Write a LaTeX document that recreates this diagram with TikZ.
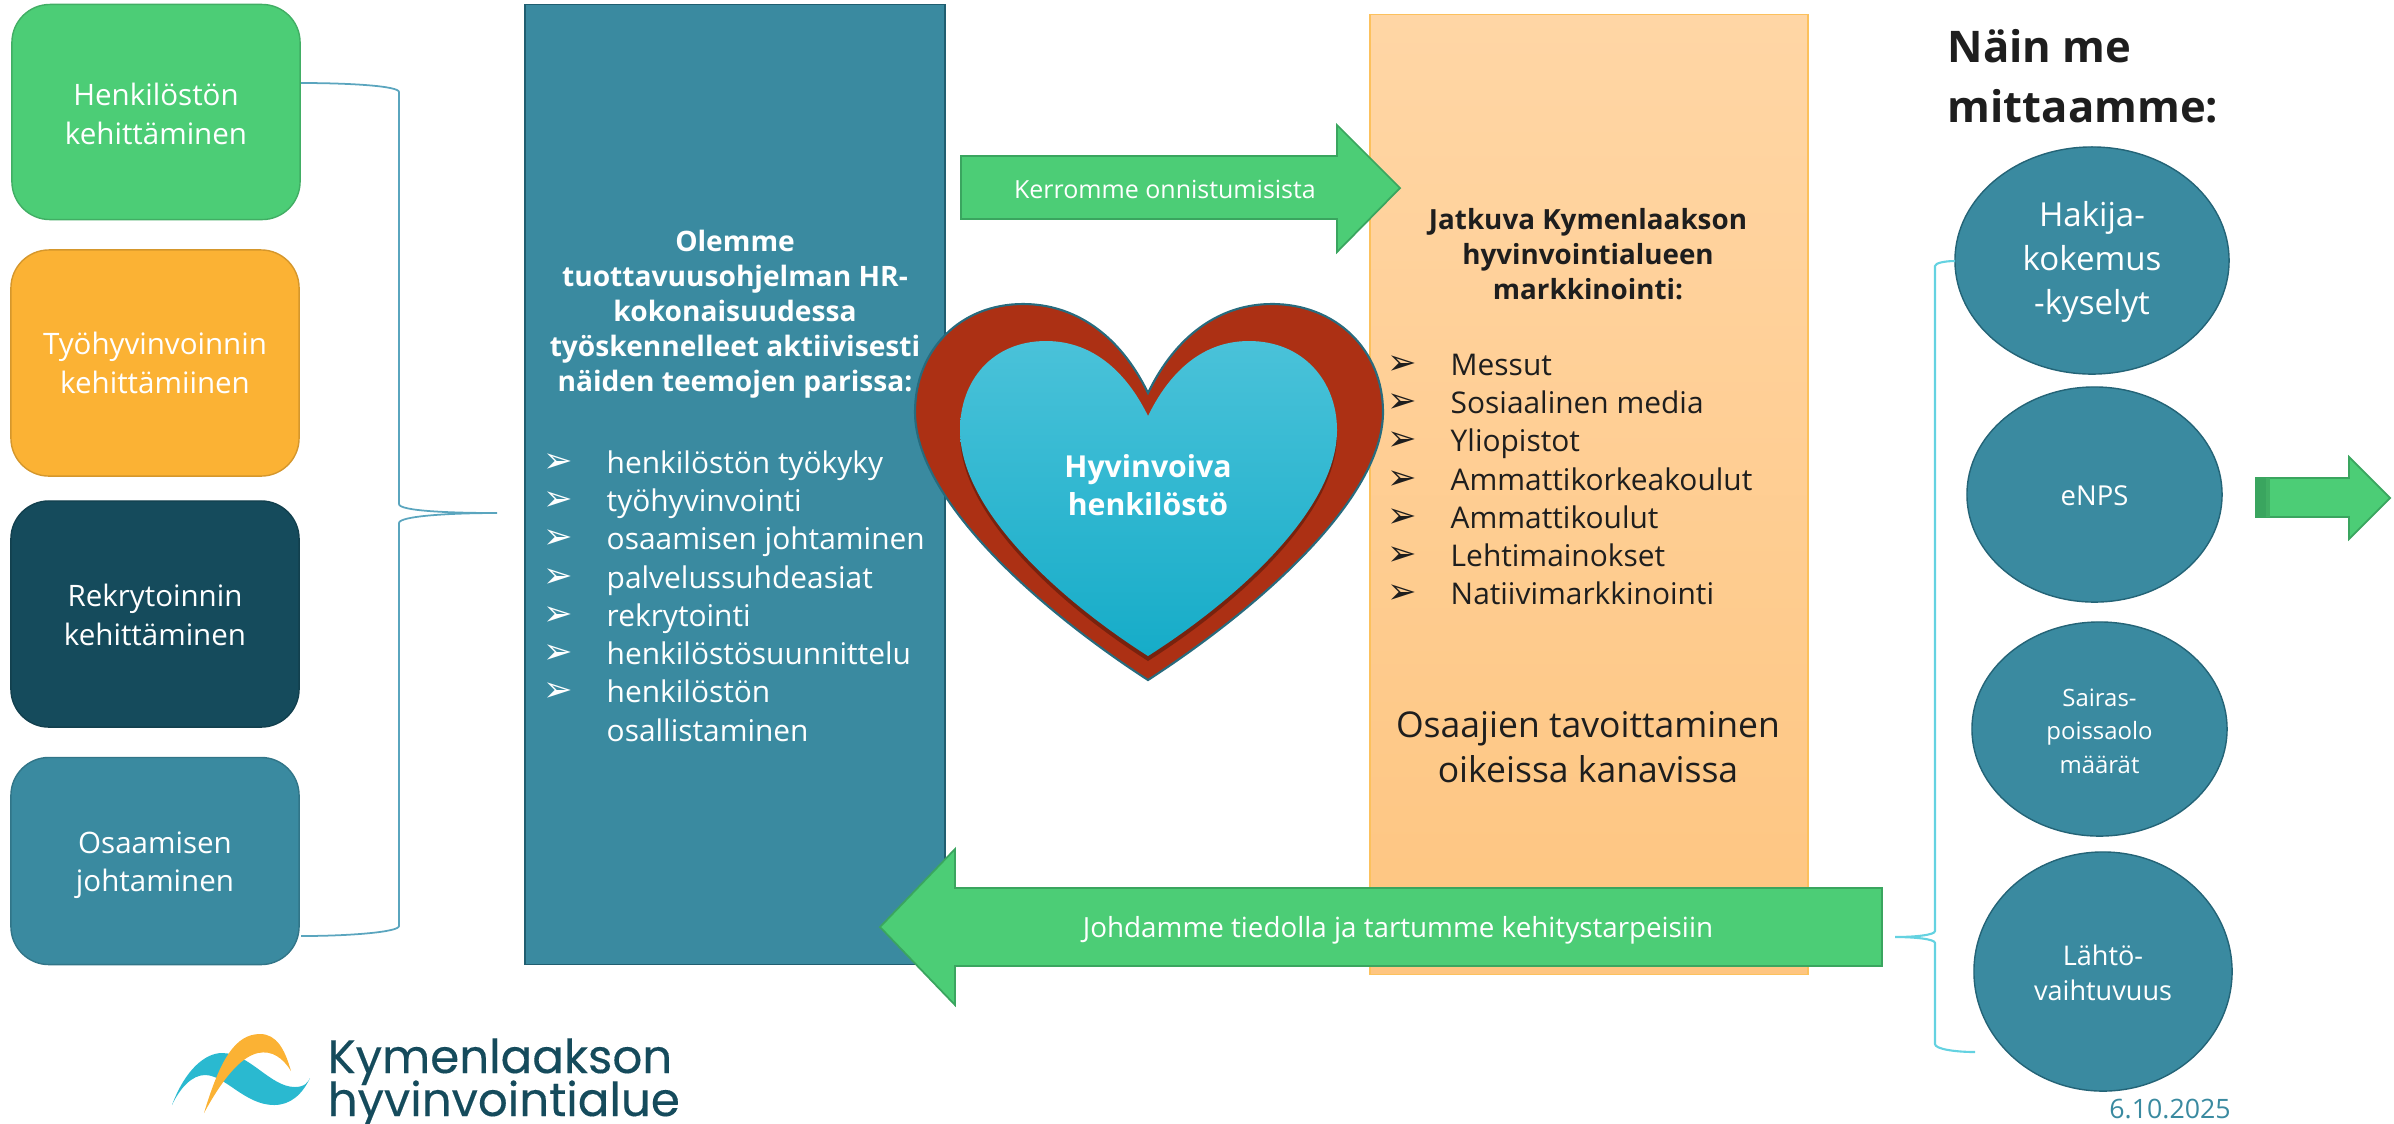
\documentclass[tikz,border=0pt]{standalone}
\usepackage{fontspec}
\setmainfont{Open Sans}
\newfontfamily\markfont{DejaVu Sans}
\newfontfamily\logofont[FakeBold=0.3]{Poppins}
\usetikzlibrary{shapes.geometric}
\definecolor{hrgreen}{RGB}{76,205,118}
\definecolor{hrgreenline}{RGB}{58,165,95}
\definecolor{hrorange}{RGB}{251,178,52}
\definecolor{hrpeachtop}{RGB}{255,214,165}
\definecolor{hrpeachlow}{RGB}{254,197,128}
\definecolor{hrdark}{RGB}{21,75,92}
\definecolor{hrblue}{RGB}{58,138,160}
\definecolor{hrbrace}{RGB}{90,165,190}
\definecolor{hrcyan}{RGB}{100,210,225}
\definecolor{hrred}{RGB}{172,48,20}
\definecolor{hearttop}{RGB}{74,194,217}
\definecolor{heartmid}{RGB}{34,190,217}
\definecolor{heartlow}{RGB}{22,172,200}
\definecolor{hrlogo}{RGB}{42,185,208}
\definecolor{hrtext}{RGB}{30,30,30}
\tikzset{
    themebox/.style={draw=#1!85!black,fill=#1,rounded corners=0.38cm,inner sep=0pt,minimum width=2.88cm},
    themetext/.style={text=white,align=center,inner sep=0pt,font=\fontsize{8.4}{10.9}\selectfont},
    meterball/.style={ellipse,draw=hrdark!60!hrblue,fill=hrblue,inner sep=0pt},
    metertext/.style={text=white,align=center,inner sep=0pt},
    flowarrow/.style={draw=hrgreenline,fill=hrgreen,line width=0.5pt},
    flowtext/.style={text=white},
    listrow/.style={anchor=base west,inner sep=0pt,font=\fontsize{8.5}{10}\selectfont},
    listmark/.style={inner sep=0pt,font=\markfont\fontsize{10}{11}\selectfont},
}
\begin{document}
\begin{tikzpicture}[x=0.01cm,y=-0.01cm]
    \useasboundingbox (0,0) rectangle (2394,1123);
    % left column
    \node[themebox=hrgreen,minimum height=2.15cm] (kehitys) at (156,112) {};
    \node[themebox=hrorange,minimum height=2.26cm] (tyohyv) at (155,363) {};
    \node[themebox=hrdark,minimum height=2.26cm] (rekry) at (155,614) {};
    \node[themebox=hrblue,minimum height=2.07cm] (osaaminen) at (155,861) {};
    \node[themetext] (kehitysText) at (156,114) {Henkilöstön\\kehittäminen};
    \node[themetext] (tyohyvText) at (155,363) {Työhyvinvoinnin\\kehittämiinen};
    \node[themetext] (rekryText) at (155,615) {Rekrytoinnin\\kehittäminen};
    \node[themetext] (osaaminenText) at (155,865) {Osaamisen\\johtaminen};
    \coordinate (braceTop) at (301,83);
    \coordinate (braceTip) at (497,513);
    \coordinate (braceEnd) at (301,936);
    \draw[hrbrace,line width=0.5pt] (braceTop) .. controls (350,83) and (399,86) .. (399,92) -- (399,504)
        .. controls (399,511) and (450,513) .. (braceTip) .. controls (450,513) and (399,516) .. (399,523)
        -- (399,926) .. controls (399,932) and (350,936) .. (braceEnd);
    % blue panel
    \node[draw=hrdark!70!hrblue,fill=hrblue,inner sep=0pt,minimum width=4.2cm,minimum height=9.59cm] (panel) at (735,484.5) {};
    \node[text=white,align=center,inner sep=0pt,font=\fontsize{8}{9.95}\selectfont\bfseries] (panelhead) at (735,314)
        {Olemme\\tuottavuusohjelman HR-\\kokonaisuudessa\\työskennelleet aktiivisesti\\näiden teemojen parissa:};
    \foreach \y/\txt in {462/henkilöstön työkyky,500/työhyvinvointi,538/osaamisen johtaminen,
        577/palvelussuhdeasiat,615/rekrytointi,653/henkilöstösuunnittelu,691/henkilöstön}
    {
        \node[listmark,text=white] (panelmark\y) at (558,\y+1) {➢};
        \node[listrow,text=white] (panelrow\y) at (606,\y+11) {\txt};
    }
    \node[listrow,text=white] (panelrow730) at (606,741) {osallistaminen};
    % orange panel
    \node[draw=hrorange!80!white,top color=hrpeachtop,bottom color=hrpeachlow,inner sep=0pt,
        minimum width=4.38cm,minimum height=9.59cm] (market) at (1589,494.5) {};
    \node[text=hrtext,align=center,inner sep=0pt,font=\fontsize{7.9}{9.95}\selectfont\bfseries] (markethead) at (1588,254)
        {Jatkuva Kymenlaakson\\hyvinvointialueen\\markkinointi:};
    \foreach \y/\txt in {364/Messut,402/Sosiaalinen media,440/Yliopistot,479/Ammattikorkeakoulut,
        517/Ammattikoulut,555/Lehtimainokset,593/Natiivimarkkinointi}
    {
        \node[listmark,text=hrtext] (marketmark\y) at (1402,\y+1) {➢};
        \node[listrow,text=hrtext] (marketrow\y) at (1450,\y+11) {\txt};
    }
    \node[text=hrtext,align=center,inner sep=0pt,font=\fontsize{10.1}{12.9}\selectfont] (reach) at (1588,747)
        {Osaajien tavoittaminen\\oikeissa kanavissa};
    % arrows
    \draw[flowarrow] (961,156) -- (1337,156) -- (1337,125) -- (1400,188) -- (1337,252) -- (1337,219) -- (961,219) -- cycle;
    \node[flowtext,font=\fontsize{7.1}{9}\selectfont] (kerromme) at (1165,189) {Kerromme onnistumisista};
    \draw[flowarrow] (1882,888) -- (955,888) -- (955,849) -- (880,927) -- (955,1005) -- (955,966) -- (1882,966) -- cycle;
    \node[flowtext,font=\fontsize{7.9}{9}\selectfont] (johdamme) at (1398,930) {Johdamme tiedolla ja tartumme kehitystarpeisiin};
    % heart
    \draw[draw=hrdark!50!hrblue,fill=hrred,line width=0.6pt] (1148,393) .. controls (1120,335) and (1075,304) .. (1023,304)
        .. controls (960,304) and (915,350) .. (915,412) .. controls (915,500) and (1040,610) .. (1148,680)
        .. controls (1256,610) and (1383,500) .. (1383,412) .. controls (1383,350) and (1336,304) .. (1272,304)
        .. controls (1220,304) and (1176,335) .. (1148,393) -- cycle;
    \fill[hrred!70!black] (1148,421) .. controls (1128,380) and (1095,346) .. (1046,346)
        .. controls (992,346) and (960,386) .. (960,435) .. controls (960,515) and (1060,605) .. (1148,661)
        .. controls (1236,605) and (1337,515) .. (1337,435) .. controls (1337,386) and (1303,346) .. (1249,346)
        .. controls (1200,346) and (1168,380) .. (1148,421) -- cycle;
    \shade[top color=hearttop,middle color=heartmid,bottom color=heartlow]
        (1148,416) .. controls (1128,375) and (1095,341) .. (1046,341)
        .. controls (992,341) and (960,381) .. (960,430) .. controls (960,510) and (1060,600) .. (1148,656)
        .. controls (1236,600) and (1337,510) .. (1337,430) .. controls (1337,381) and (1303,341) .. (1249,341)
        .. controls (1200,341) and (1168,375) .. (1148,416) -- cycle;
    \node[text=white,align=center,inner sep=0pt,font=\fontsize{8.6}{10.9}\selectfont\bfseries] (hyvinvoiva) at (1148,485)
        {Hyvinvoiva\\henkilöstö};
    % right column
    \node[anchor=north west,align=left,inner sep=0pt,text=hrtext,font=\fontsize{12.4}{16.9}\selectfont\bfseries] (naain) at (1947,29)
        {Näin me\\mittaamme:};
    \node[meterball,minimum width=2.74cm,minimum height=2.27cm] (hakija) at (2092,260.5) {};
    \node[meterball,minimum width=2.55cm,minimum height=2.15cm] (enps) at (2094.5,494.5) {};
    \node[meterball,minimum width=2.55cm,minimum height=2.14cm] (sairas) at (2099.5,729) {};
    \node[meterball,minimum width=2.58cm,minimum height=2.39cm] (lahto) at (2103,971.5) {};
    \node[metertext,font=\fontsize{9.4}{12.6}\selectfont] (hakijaText) at (2092,262) {Hakija-\\kokemus\\-kyselyt};
    \node[metertext,font=\fontsize{7.8}{9.5}\selectfont] (enpsText) at (2094.5,496) {eNPS};
    \node[metertext,font=\fontsize{6.8}{9.5}\selectfont] (sairasText) at (2099.5,731) {Sairas-\\poissaolo\\määrät};
    \node[metertext,font=\fontsize{7.7}{10}\selectfont] (lahtoText) at (2103,973) {Lähtö-\\vaihtuvuus};
    \coordinate (brace2Top) at (1955,261);
    \coordinate (brace2Tip) at (1895,937);
    \coordinate (brace2End) at (1975,1052);
    \draw[hrcyan,line width=0.6pt] (brace2Top) .. controls (1945,261) and (1935,263) .. (1935,266) -- (1935,931)
        .. controls (1935,935) and (1915,937) .. (brace2Tip) .. controls (1915,937) and (1935,939) .. (1935,943)
        -- (1935,1044) .. controls (1935,1049) and (1955,1052) .. (brace2End);
    \draw[flowarrow] (2256,478) -- (2349,478) -- (2349,457) -- (2390,498) -- (2349,539) -- (2349,517) -- (2256,517) -- cycle;
    \fill[hrgreenline] (2256,478) rectangle (2266,517);
    \fill[hrgreen!85!black] (2266,478) rectangle (2270,517);
    \node[text=hrblue,inner sep=0pt,font=\fontsize{7.6}{8}\selectfont] (paiva) at (2170,1109) {6.10.2025};
    % logo
    \fill[hrlogo] (172,1105) .. controls (185,1070) and (205,1053) .. (222,1053)
        .. controls (250,1053) and (270,1087) .. (295,1087) .. controls (305,1087) and (308,1082) .. (310,1078)
        .. controls (302,1095) and (290,1105) .. (274,1105) .. controls (245,1105) and (225,1075) .. (205,1075)
        .. controls (192,1075) and (180,1088) .. (172,1105) -- cycle;
    \fill[hrorange] (204,1113) .. controls (220,1060) and (235,1034) .. (260,1034)
        .. controls (277,1034) and (285,1050) .. (291,1071) .. controls (283,1058) and (272,1050) .. (258,1053)
        .. controls (240,1057) and (222,1080) .. (204,1113) -- cycle;
    \node[anchor=base west,inner sep=0pt,text=hrdark,font=\logofont\fontsize{13.3}{14}\selectfont] (logoA) at (327,1073) {Kymenlaakson};
    \node[anchor=base west,inner sep=0pt,text=hrdark,font=\logofont\fontsize{13.3}{14}\selectfont] (logoB) at (327,1116) {hyvinvointialue};
\end{tikzpicture}
\end{document}
